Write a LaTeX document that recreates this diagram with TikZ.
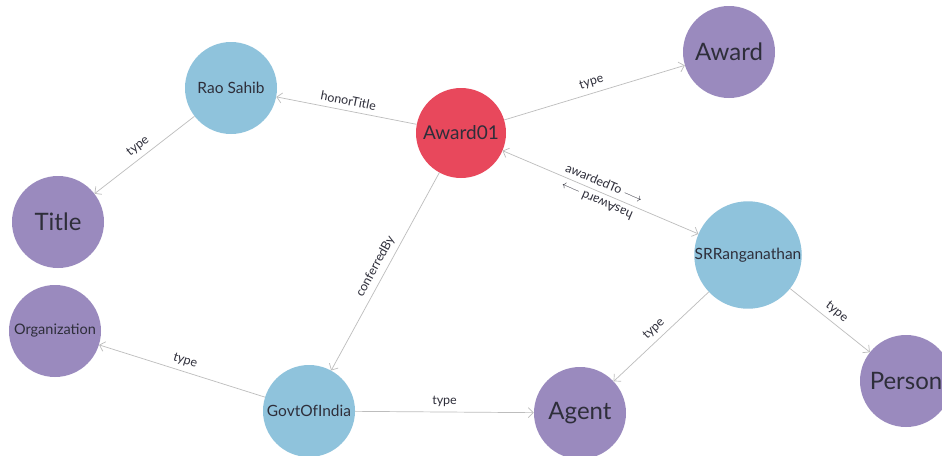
\documentclass[tikz,border=0pt]{standalone}
\usepackage{fontspec}
\setmainfont{Lato}
\usetikzlibrary{arrows.meta}
\definecolor{redn}{HTML}{E8485C}
\definecolor{bluen}{HTML}{8FC3DC}
\definecolor{purplen}{HTML}{9A8ABE}
\definecolor{edgec}{HTML}{BDBDBD}
\definecolor{txt}{HTML}{2E2E3A}
\begin{document}
\begin{tikzpicture}[x=1pt,y=-1pt,
  ent/.style={circle, minimum size=92pt, inner sep=0pt, text=txt},
  cls/.style={ent, fill=purplen, font=\fontsize{24}{24}\selectfont},
  inst/.style={ent, fill=bluen, font=\fontsize{15.5}{15.5}\selectfont},
  hub/.style={ent, fill=redn, minimum size=90pt, font=\fontsize{19}{19}\selectfont},
  tip/.tip={Straight Barb[length=5pt,width=10pt]},
  edge/.style={draw=edgec, line width=0.7pt, -tip},
  lbl/.style={font=\fontsize{12.5}{12.5}\selectfont, text=txt, sloped, above=2pt, inner sep=3pt, midway}
]
\clip (0,0) rectangle (942,455);
\fill[white] (0,0) rectangle (942,455);

\node[hub] (a01) at (461,133) {Award01};
\node[inst] (rao) at (231,88) {Rao Sahib};
\node[cls] (award) at (729,52) {Award};
\node[cls] (title) at (58,222) {Title};
\node[inst] (srr) at (748,255) {SRRanganathan};
\node[cls, font=\fontsize{14.5}{14.5}\selectfont] (org) at (55,331) {Organization};
\node[inst] (govt) at (309,411) {GovtOfIndia};
\node[cls] (agent) at (580,413) {Agent};
\node[cls] (person) at (906,381) {Person};

\draw[edge] (a01) -- (rao) node[lbl]{honorTitle};
\draw[edge] (a01) -- (award) node[lbl]{type};
\draw[edge] (rao) -- (title) node[lbl]{type};
\draw[edge] (a01) -- (govt) node[lbl]{conferredBy};
\draw[edge, tip-tip] (a01) -- (srr) node[lbl]{awardedTo $\longrightarrow$};
\path (srr) -- (a01) node[lbl, allow upside down]{hasAward $\longrightarrow$};
\draw[edge] (srr) -- (agent) node[lbl]{type};
\draw[edge] (srr) -- (person) node[lbl]{type};
\draw[edge] (govt) -- (org) node[lbl]{type};
\draw[edge] (govt) -- (agent) node[lbl]{type};
\end{tikzpicture}
\end{document}
